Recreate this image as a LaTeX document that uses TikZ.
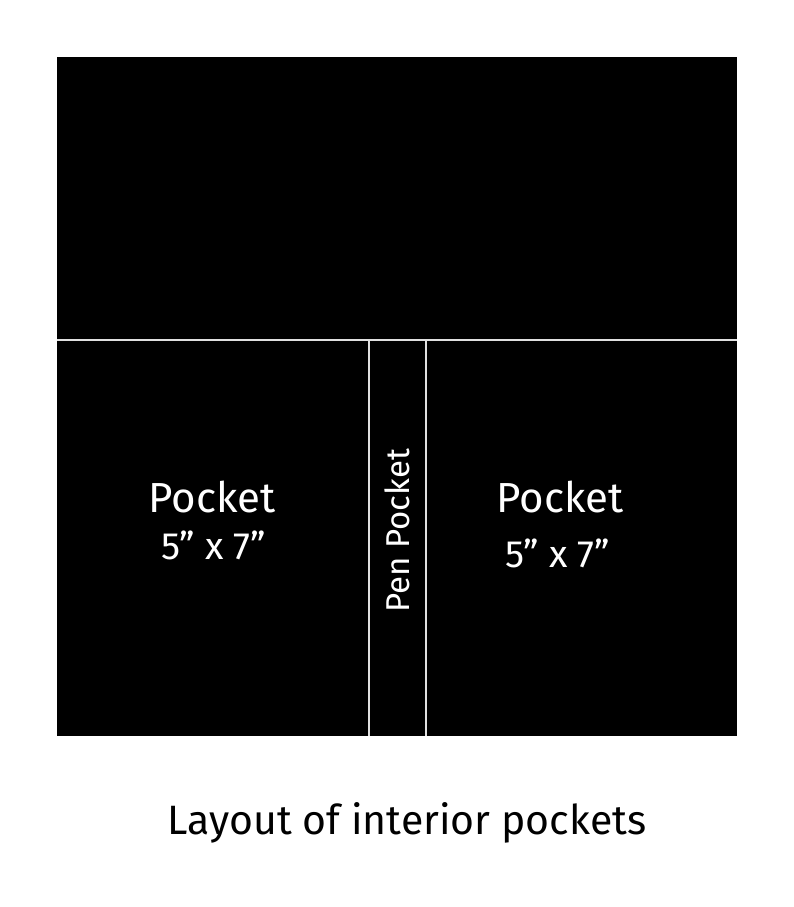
\documentclass[tikz,border=0pt]{standalone}
\usepackage{fontspec}
\setmainfont{Fira Sans}
\usetikzlibrary{positioning}
\tikzset{
    %Define style for pocket names
    pocketname/.style={
           text=white,
           inner sep=0pt,
           font=\fontsize{42}{46}\selectfont},
    %Define style for pocket sizes
    pocketsize/.style={
           text=white,
           inner sep=0pt,
           font=\fontsize{38}{42}\selectfont},
    % Define seam style
    seam/.style={
           draw=white!88!black,
           line width=1.6pt},
}
\begin{document}
\begin{tikzpicture}[x=1pt,y=1pt]
 \useasboundingbox[fill=white] (0,0) rectangle (794,907);
 %panel
 \fill[black] (57,171) rectangle (737,850);
 %seams
 \draw[seam] (57,567) -- (737,567);
 \draw[seam] (369,567) -- (369,171);
 \draw[seam] (426,567) -- (426,171);
 %labels
 \node[pocketname] (leftname) at (212,410) {Pocket};
 \node[pocketsize] (leftsize) at (214,362) {5” x 7”};
 \node[pocketname] (rightname) at (560,410) {Pocket};
 \node[pocketsize] (rightsize) at (558,354) {5” x 7”};
 \node[pocketname, font=\fontsize{33}{36}\selectfont, rotate=90] (pen) at (397,376) {Pen Pocket};
 %caption
 \node[inner sep=0pt, anchor=base, font=\fontsize{41}{44}\selectfont] (caption) at (407,72) {Layout of interior pockets};
\end{tikzpicture}
\end{document}
